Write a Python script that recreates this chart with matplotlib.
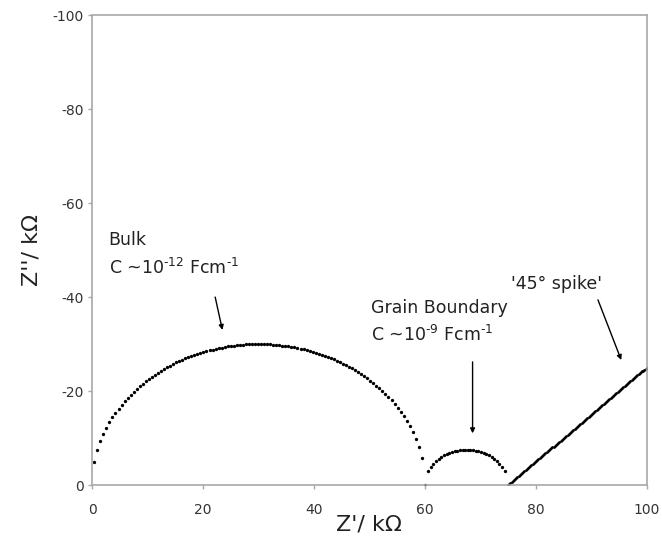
import numpy as np
import matplotlib
matplotlib.use("Agg")
import matplotlib.pyplot as plt

plt.rcParams["font.family"] = ["DejaVu Sans"]
plt.rcParams["axes.unicode_minus"] = False
plt.rcParams["mathtext.default"] = "regular"

bulk_x = [0.4, 60.0]
bulk_ends = [0.0, 60.0]
bulk_n = 110
gb_x = [60.6, 74.4]
gb_ends = [60.0, 75.0]
gb_n = 30
# 45 degree spike: start and end points
spike_x = [75.0, 100.0]
spike_y = [0.0, -25.0]
spike_n = 120

x_ticks = [0, 20, 40, 60, 80, 100]
y_ticks = [0, -20, -40, -60, -80, -100]


def arc(xr, ends, n):
    c = (ends[0] + ends[1]) / 2
    r = (ends[1] - ends[0]) / 2
    x = np.linspace(xr[0], xr[1], n)
    y = -np.sqrt(np.clip(r**2 - (x - c)**2, 0, None))
    return x, y


fig = plt.figure(figsize=(6.62, 5.41), dpi=100)
ax = fig.add_axes([0.139, 0.1035, 0.838, 0.8685])

bx, by = arc(bulk_x, bulk_ends, bulk_n)
gx, gy = arc(gb_x, gb_ends, gb_n)
sx = np.linspace(spike_x[0], spike_x[1], spike_n)
sy = np.interp(sx, spike_x, spike_y)

ax.plot(bx, by, "o", color="black", ms=2.4, mew=0)
ax.plot(gx, gy, "o", color="black", ms=2.4, mew=0)
ax.plot(sx, sy, "o", color="black", ms=2.0, mew=0)

ax.set_xlim(0, 100)
ax.set_ylim(0, -100)
ax.set_xticks(x_ticks)
ax.set_yticks(y_ticks)

for s in ax.spines.values():
    s.set_color("#a8a8a8")
    s.set_linewidth(1.2)
ax.tick_params(axis="both", colors="#a8a8a8", labelcolor="#333333",
               labelsize=10, length=3, width=1)
ax.tick_params(axis="x", pad=10)
ax.tick_params(axis="y", pad=3)

ax.set_xlabel("Z'/ k\u03a9", fontsize=16, color="#222222", labelpad=-2)
ax.set_ylabel("Z''/ k\u03a9", fontsize=16, color="#222222", labelpad=8)

txt = dict(fontsize=12.5, color="#222222")
ax.text(3, -51.0, "Bulk", **txt)
ax.text(3, -45.0, r"C ~10$^{\text{-12}}$ Fcm$^{\text{-1}}$", **txt)
ax.text(50.3, -36.6, "Grain Boundary", **txt)
ax.text(50.3, -30.6, r"C ~10$^{\text{-9}}$ Fcm$^{\text{-1}}$", **txt)
ax.text(75.5, -41.8, "'45\u00b0 spike'", **txt)

arr = dict(arrowstyle="-|>", color="black", lw=1.0, mutation_scale=7,
           shrinkA=0, shrinkB=0)
ax.annotate("", xy=(23.5, -33), xytext=(22.2, -40), arrowprops=arr)
ax.annotate("", xy=(68.6, -11), xytext=(68.6, -26.2), arrowprops=arr)
ax.annotate("", xy=(95.4, -26.6), xytext=(91.2, -39.4), arrowprops=arr)

fig.savefig("out.png", dpi=100)
